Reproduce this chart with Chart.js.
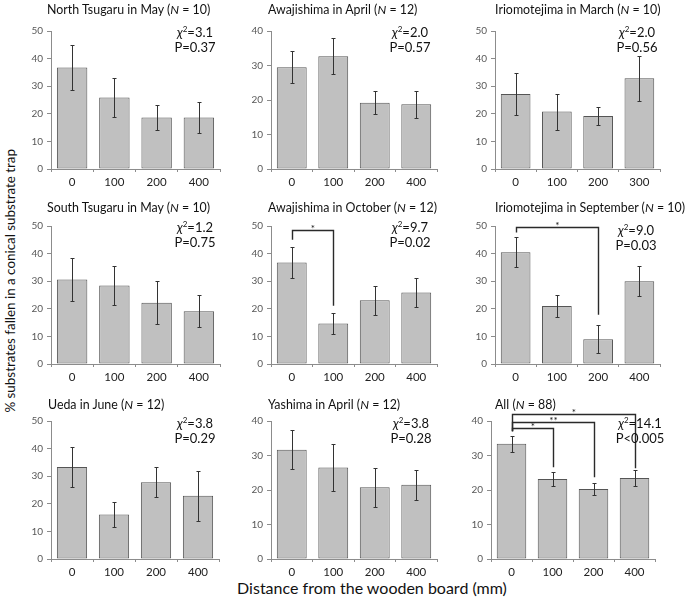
<!DOCTYPE html>
<html>
<head>
<meta charset="utf-8">
<script src="https://cdn.jsdelivr.net/npm/chart.js@4.4.0/dist/chart.umd.min.js"></script>
<style>
  body { margin: 0; background: #fff; font-family: Lato, 'Liberation Sans', sans-serif; }
  #fig { position: relative; width: 685px; height: 606px; overflow: hidden; }
  .panel { position: absolute; }
  .title { position: absolute; font-size: 12.4px; line-height: 16px; white-space: nowrap; color: #111; }
  .stat { position: absolute; width: 80px; font-size: 13px; line-height: 13px; text-align: center; white-space: nowrap; color: #111; }
  .stat sup { font-size: 8px; vertical-align: baseline; position: relative; top: -5px; }
  #ybox { position: absolute; left: 0; top: 0; width: 19px; height: 562px; display: flex; align-items: center; justify-content: center; }
  #ytitle { writing-mode: vertical-rl; transform: rotate(180deg); font-size: 13.4px; white-space: nowrap; color: #111; }
  #xtitle { position: absolute; left: 172px; width: 400px; text-align: center; top: 579px; line-height: 18px; font-size: 16px; white-space: nowrap; color: #111; }
</style>
</head>
<body>
<div id="fig">
  <div id="ybox"><div id="ytitle">% substrates fallen in a conical substrate trap</div></div>
  <div id="xtitle">Distance from the wooden board (mm)</div>
</div>
<script>
// datos
const distances = ['0', '100', '200', '400'];
const distancesMarch = ['0', '100', '200', '300'];
const sites = ['North Tsugaru in May', 'Awajishima in April', 'Iriomotejima in March',
  'South Tsugaru in May', 'Awajishima in October', 'Iriomotejima in September',
  'Ueda in June', 'Yashima in April', 'All'];
const sampleSizes = [10, 12, 10, 10, 12, 10, 12, 12, 88];
const means = [
  [36.8, 25.9, 18.7, 18.7],
  [29.5, 32.7, 19.2, 18.8],
  [27.2, 20.8, 19.2, 32.9],
  [30.6, 28.4, 22.2, 19.1],
  [36.8, 14.7, 23.1, 25.9],
  [40.5, 21.0, 9.0, 30.0],
  [33.3, 16.1, 27.8, 22.9],
  [31.7, 26.5, 20.8, 21.5],
  [33.4, 23.2, 20.3, 23.5]
];
const errors = [
  [8.2, 7.0, 4.6, 5.6],
  [4.7, 5.2, 3.3, 3.9],
  [7.6, 6.5, 3.2, 8.2],
  [7.7, 7.0, 7.8, 5.8],
  [5.5, 3.8, 5.2, 5.4],
  [5.4, 3.9, 5.1, 5.4],
  [7.2, 4.6, 5.4, 9.1],
  [5.6, 6.7, 5.6, 4.4],
  [2.3, 2.1, 1.8, 2.2]
];
const yMax = [50, 40, 50, 50, 50, 50, 50, 40, 40];
const chiSquare = ['3.1', '2.0', '2.0', '1.2', '9.7', '9.0', '3.8', '3.8', '14.1'];
const pValues = ['P=0.37', 'P=0.57', 'P=0.56', 'P=0.75', 'P=0.02', 'P=0.03', 'P=0.29', 'P=0.28', 'P<0.005'];
// comparaciones significativas: [panel, categoria destino, altura, fin pata izq, fin pata der, marca]
const brackets = [
  [4, 1, 48.6, 45.0, 21.1, '*'],
  [5, 2, 49.6, 47.6, 17.8, '*'],
  [8, 3, 41.9, 37.0, 26.3, '*'],
  [8, 2, 39.7, 37.0, 23.7, '**'],
  [8, 1, 38.1, 37.0, 26.6, '*']
];

// posiciones de cada panel en la figura
const axisLeft = [51, 271, 495, 51, 271, 495, 51, 271, 491];
const axisRight = [220, 437, 660, 220, 437, 660, 219, 437, 655];
const rowTop = [31, 226, 421];
const rowBottom = [169, 364, 559];
const titleX = [47, 268, 495, 47, 268, 495, 48, 268, 495];
const titleY = [10, 208, 405];
const statX = [195, 410, 637, 195, 410, 636, 195, 411, 640];
const statY = [26, 26, 26, 221, 221, 224, 417, 417, 417];

const PAD_TOP = 16, AXIS_W = 30, AXIS_H = 22, PAD_RIGHT = 6;

Chart.defaults.font.family = "Lato, 'Liberation Sans', sans-serif";

const errorBars = {
  id: 'errorBars',
  afterDatasetsDraw(chart) {
    const ctx = chart.ctx;
    const y = chart.scales.y;
    const meta = chart.getDatasetMeta(0);
    const errs = chart.config.options.plugins.errorBars.values;
    ctx.save();
    ctx.strokeStyle = '#333';
    ctx.lineWidth = 1;
    meta.data.forEach((bar, i) => {
      const v = chart.data.datasets[0].data[i];
      const top = Math.round(y.getPixelForValue(v + errs[i])) + 0.5;
      const bot = Math.round(y.getPixelForValue(v - errs[i])) + 0.5;
      const x = Math.round(bar.x) + 0.5;
      ctx.beginPath();
      ctx.moveTo(x, top); ctx.lineTo(x, bot);
      ctx.moveTo(x - 2, top); ctx.lineTo(x + 2, top);
      ctx.moveTo(x - 2, bot); ctx.lineTo(x + 2, bot);
      ctx.stroke();
    });
    ctx.restore();
  }
};

const sigBrackets = {
  id: 'sigBrackets',
  afterDraw(chart) {
    const list = chart.config.options.plugins.sigBrackets.items;
    if (!list.length) return;
    const ctx = chart.ctx;
    const xs = chart.scales.x, ys = chart.scales.y;
    ctx.save();
    ctx.strokeStyle = '#2a2a2a';
    ctx.fillStyle = '#111';
    ctx.lineWidth = 1.4;
    ctx.font = "10px Lato, 'Liberation Sans', sans-serif";
    ctx.textAlign = 'center';
    ctx.textBaseline = 'alphabetic';
    list.forEach(b => {
      const xl = Math.round(xs.getPixelForValue(0)) + 0.5;
      const xr = Math.round(xs.getPixelForValue(b[1])) + 0.5;
      const yt = Math.round(ys.getPixelForValue(b[2])) + 0.5;
      ctx.beginPath();
      ctx.moveTo(xl, ys.getPixelForValue(b[3]));
      ctx.lineTo(xl, yt);
      ctx.lineTo(xr, yt);
      ctx.lineTo(xr, ys.getPixelForValue(b[4]));
      ctx.stroke();
      ctx.fillText(b[5], (xl + xr) / 2, yt + 1);
    });
    ctx.restore();
  }
};

const fig = document.getElementById('fig');

sites.forEach((site, p) => {
  const row = Math.floor(p / 3);
  const w = axisRight[p] - axisLeft[p] + AXIS_W + PAD_RIGHT;
  const h = rowBottom[row] - rowTop[row] + PAD_TOP + AXIS_H;

  const box = document.createElement('div');
  box.className = 'panel';
  box.style.left = (axisLeft[p] - AXIS_W) + 'px';
  box.style.top = (rowTop[row] - PAD_TOP) + 'px';
  const canvas = document.createElement('canvas');
  canvas.width = w; canvas.height = h;
  box.appendChild(canvas);
  fig.appendChild(box);

  const title = document.createElement('div');
  title.className = 'title';
  title.style.left = titleX[p] + 'px';
  title.style.top = (titleY[row] - 8) + 'px';
  title.innerHTML = site + ' (<i>N</i> = ' + sampleSizes[p] + ')';
  fig.appendChild(title);

  const stat = document.createElement('div');
  stat.className = 'stat';
  stat.style.left = (statX[p] - 40) + 'px';
  stat.style.top = statY[p] + 'px';
  stat.innerHTML = '<i>χ</i><sup>2</sup>=' + chiSquare[p] + '<br>' + pValues[p].replace('<', '&lt;');
  fig.appendChild(stat);

  new Chart(canvas.getContext('2d'), {
    type: 'bar',
    data: {
      labels: p === 2 ? distancesMarch : distances,
      datasets: [{
        data: means[p],
        backgroundColor: '#c0c0c0',
        borderColor: '#555',
        borderWidth: 1,
        borderSkipped: false,
        barPercentage: 0.72,
        categoryPercentage: 1
      }]
    },
    options: {
      responsive: false,
      animation: false,
      layout: { padding: { top: PAD_TOP, right: PAD_RIGHT, left: 0, bottom: 0 } },
      plugins: {
        legend: { display: false },
        tooltip: { enabled: false },
        errorBars: { values: errors[p] },
        sigBrackets: { items: brackets.filter(b => b[0] === p) }
      },
      scales: {
        x: {
          afterFit: s => { s.height = AXIS_H; },
          grid: { drawOnChartArea: false, tickLength: 3, color: '#8c8c8c' },
          border: { color: '#8c8c8c' },
          ticks: { color: '#222', font: { size: 11.5 }, padding: 3 }
        },
        y: {
          min: 0,
          max: yMax[p],
          afterFit: s => { s.width = AXIS_W; },
          grid: { drawOnChartArea: false, tickLength: 4, color: '#8c8c8c' },
          border: { color: '#8c8c8c' },
          ticks: { stepSize: 10, color: '#595959', font: { size: 10 }, padding: 4 }
        }
      }
    },
    plugins: [errorBars, sigBrackets]
  });
});
</script>
</body>
</html>
